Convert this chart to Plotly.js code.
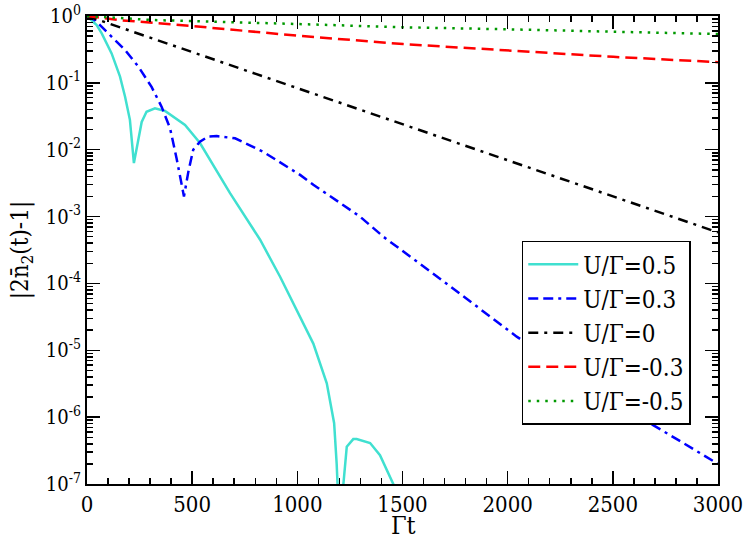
<!DOCTYPE html>
<html>
<head>
<meta charset="utf-8">
<script src="https://cdn.plot.ly/plotly-3.0.1.min.js"></script>
<style>
  html, body { margin: 0; padding: 0; background: #fff; }
  #chart { width: 747px; height: 538px; }
</style>
</head>
<body>
<div id="chart"></div>
<script>
// U/Gamma = 0.5
const tU05 = [0, 46, 70, 117, 157, 181, 204, 212, 223, 260, 283, 323, 371, 466, 537, 680, 823, 918, 997, 1076, 1140, 1175, 1187, 1205, 1219, 1235, 1266, 1282, 1346, 1393, 1456, 1480];
const nU05 = [1, 0.73, 0.55, 0.276, 0.124, 0.062, 0.028, 0.0148, 0.0063, 0.026, 0.037, 0.0416, 0.038, 0.0234, 0.0126, 2.24e-3, 4.5e-4, 1.26e-4, 4.0e-5, 1.26e-5, 3.2e-6, 8.1e-7, 2.0e-7, 1e-8, 1e-7, 3.6e-7, 4.7e-7, 4.7e-7, 4.1e-7, 2.7e-7, 1e-7, 5e-8];

// U/Gamma = 0.3
const tU03 = [0, 38, 101, 181, 244, 307, 355, 395, 426, 461, 482, 505, 537, 577, 617, 704, 838, 1013, 1076, 1171, 1298, 1409, 1718, 2043, 2455, 2677, 2835, 3000];
const nU03 = [1, 0.87, 0.55, 0.31, 0.175, 0.087, 0.0437, 0.0209, 0.0074, 0.0020, 0.0047, 0.010, 0.0132, 0.0158, 0.0160, 0.0148, 0.0093, 0.0042, 0.0030, 0.00186, 0.0010, 5.0e-4, 9.5e-5, 1.6e-5, 2.3e-6, 8.1e-7, 4.1e-7, 2.0e-7];

// U/Gamma = 0
const tU0 = [0, 500, 1000, 1500, 2000, 2500, 3000];
const nU0 = [1, 0.288, 0.083, 0.024, 0.0069, 0.0020, 5.8e-4];

// U/Gamma = -0.3
const tUm03 = [0, 147, 500, 1003, 1503, 2011, 2502, 3000];
const nUm03 = [1, 0.871, 0.708, 0.507, 0.380, 0.302, 0.245, 0.204];

// U/Gamma = -0.5
const tUm05 = [0, 309, 1003, 1503, 2011, 2502, 3000];
const nUm05 = [1, 0.871, 0.759, 0.678, 0.631, 0.583, 0.537];

const yTickVals = [1, 1e-1, 1e-2, 1e-3, 1e-4, 1e-5, 1e-6, 1e-7];
const yExps = ["0", "-1", "-2", "-3", "-4", "-5", "-6", "-7"];
const yTickText = yExps.map((e) => "10<sup>" + e + "</sup>");

const serif = "DejaVu Serif Condensed, DejaVu Serif";

const traces = [
  { x: tU05, y: nU05, name: "U/Γ=0.5", mode: "lines",
    line: { color: "#40e0d0", width: 2.5 } },
  { x: tU03, y: nU03, name: "U/Γ=0.3", mode: "lines",
    line: { color: "#0000ff", width: 2.5, dash: "10px,5px,10px,5px,3px,5px" } },
  { x: tU0, y: nU0, name: "U/Γ=0", mode: "lines",
    line: { color: "#000000", width: 2.5, dash: "10px,6px,3px,6px" } },
  { x: tUm03, y: nUm03, name: "U/Γ=-0.3", mode: "lines",
    line: { color: "#ff0000", width: 2.5, dash: "12px,6px" } },
  { x: tUm05, y: nUm05, name: "U/Γ=-0.5", mode: "lines",
    line: { color: "#009900", width: 2.5, dash: "2.5px,6px" } },
];

const layout = {
  width: 747,
  height: 538,
  margin: { l: 87, r: 29, t: 16, b: 54 },
  paper_bgcolor: "#ffffff",
  plot_bgcolor: "#ffffff",
  font: { family: serif, size: 20, color: "#000" },
  showlegend: true,
  legend: {
    x: 0.689, y: 0.52, xanchor: "left", yanchor: "top",
    bgcolor: "#ffffff", bordercolor: "#000", borderwidth: 1.5,
    font: { family: serif, size: 24, color: "#000" },
    tracegroupgap: 0,
    itemwidth: 50,
  },
  xaxis: {
    range: [0, 3000],
    dtick: 500,
    showgrid: false, zeroline: false,
    showline: true, linecolor: "#000", linewidth: 2, mirror: "ticks",
    ticks: "inside", ticklen: 13, tickwidth: 1.5, tickcolor: "#000",
    minor: { dtick: 100, ticks: "inside", ticklen: 6, tickwidth: 1.5, tickcolor: "#000", showgrid: false },
    tickfont: { family: serif, size: 22 },
    ticklabeloverflow: "allow",
  },
  yaxis: {
    type: "log",
    range: [-7, 0],
    tickmode: "array",
    tickvals: yTickVals,
    ticktext: yTickText,
    showgrid: false, zeroline: false,
    showline: true, linecolor: "#000", linewidth: 2, mirror: "ticks",
    ticks: "inside", ticklen: 13, tickwidth: 1.5, tickcolor: "#000",
    minor: { dtick: "D1", ticks: "inside", ticklen: 6, tickwidth: 1.5, tickcolor: "#000", showgrid: false },
    tickfont: { family: serif, size: 20 },
    title: { text: "|2n̄<sub>2</sub>(t)-1|", font: { family: serif, size: 24 }, standoff: 10 },
  },
  // x-axis title placed as an annotation so it sits below the tick labels
  annotations: [
    {
      text: "Γt",
      xref: "paper", yref: "paper",
      x: 0.502, y: -0.056,
      xanchor: "center", yanchor: "top",
      showarrow: false,
      borderpad: 0,
      font: { family: serif, size: 25, color: "#000" },
    },
  ],
};

Plotly.newPlot("chart", traces, layout, { staticPlot: true, displayModeBar: false });
</script>
</body>
</html>
